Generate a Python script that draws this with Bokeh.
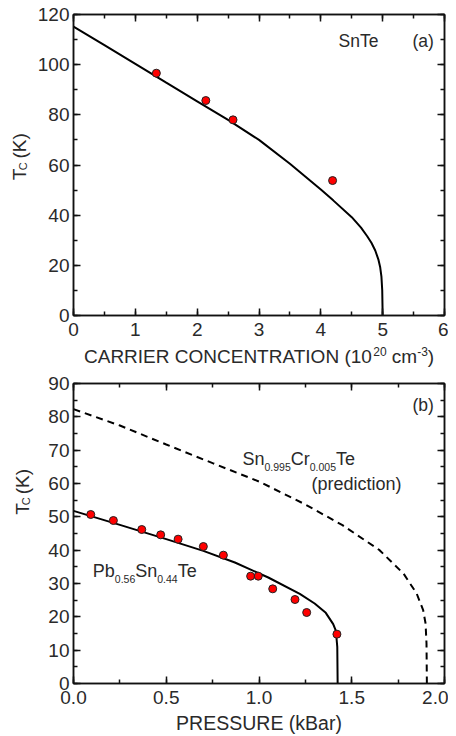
import math
from bokeh.plotting import figure
from bokeh.models import (Range1d, LinearAxis, SingleIntervalTicker,
                          CustomJSTickFormatter, NumeralTickFormatter, Label)
from bokeh.layouts import column, row
from bokeh.embed import file_html
from bokeh.resources import INLINE

# ---------------- data ----------------
# panel (a): SnTe, Tc vs carrier concentration (1e20 cm^-3)
snte_n = [1.34, 2.14, 2.58, 4.19]
snte_tc = [96.6, 85.7, 78.0, 53.8]
snte_fit_n = [0.0, 0.5, 1.0, 1.5, 2.0, 2.5, 3.0, 3.5, 4.0, 4.2, 4.5, 4.65,
              4.75, 4.82, 4.88, 4.93, 4.96, 4.98, 4.993, 5.0]
snte_fit_tc = [115.2, 107.8, 100.3, 92.8, 85.4, 78.0, 70.0, 60.5, 50.2, 45.9,
               39.2, 35.0, 31.6, 28.9, 25.9, 22.4, 19.2, 15.5, 10.0, 0.0]

# panel (b): Tc vs pressure (kBar)
pb_p = [0.093, 0.215, 0.368, 0.470, 0.564, 0.700, 0.808, 0.955, 0.996,
        1.074, 1.194, 1.257, 1.420]
pb_tc = [50.7, 48.9, 46.2, 44.6, 43.3, 41.1, 38.5, 32.2, 32.2, 28.4, 25.2,
         21.3, 14.8]
pb_fit_p = [0.0, 0.25, 0.5, 0.7, 0.87, 1.05, 1.22, 1.30, 1.36, 1.40, 1.413,
            1.418, 1.422, 1.424]
pb_fit_tc = [51.8, 47.6, 43.3, 39.8, 36.3, 31.8, 26.9, 24.0, 21.2, 17.8,
             16.0, 13.5, 11.0, 0.0]
cr_pred_p = [0.0, 0.25, 0.5, 0.75, 1.0, 1.25, 1.45, 1.65, 1.78, 1.85, 1.885,
             1.898, 1.903, 1.905]
cr_pred_tc = [82.3, 77.4, 71.7, 66.1, 60.6, 53.7, 47.5, 40.0, 32.9, 27.0,
              22.0, 18.0, 12.0, 0.0]

# ---------------- styling ----------------
FONT = "Liberation Sans"
INK = "#111111"
TXT = "#2a2a2a"
BASE_FIX = 0.28          # Label anchor sits this many em above the baseline

# Arial / Liberation Sans advance widths (per 1000 em)
AW = {' ': 278, '(': 333, ')': 333, '.': 278, '-': 333,
      'A': 667, 'B': 667, 'C': 722, 'E': 667, 'I': 278, 'K': 667, 'N': 722,
      'O': 778, 'P': 667, 'R': 722, 'S': 667, 'T': 611, 'U': 722,
      'a': 556, 'b': 556, 'c': 500, 'd': 556, 'e': 556, 'i': 222, 'k': 500,
      'm': 833, 'n': 556, 'o': 556, 'p': 556, 'r': 333, 't': 278}


def tw(s, size):
    return sum(AW.get(ch, 556) for ch in s) * size / 1000.0


def make_fig(xr, yr, xint, yint, w, h, bl, br, bt, bb):
    p = figure(x_range=Range1d(*xr), y_range=Range1d(*yr),
               width=w, height=h,
               min_border_left=bl, min_border_right=br,
               min_border_top=bt, min_border_bottom=bb,
               output_backend="svg", toolbar_location=None,
               background_fill_color="white", border_fill_color="white")
    p.outline_line_color = INK
    p.outline_line_width = 1.5
    p.xgrid.visible = False
    p.ygrid.visible = False
    xt = SingleIntervalTicker(interval=xint, num_minor_ticks=2)
    yt = SingleIntervalTicker(interval=yint, num_minor_ticks=2)
    main_x = p.below[0]
    main_y = p.left[0]
    main_x.ticker = xt
    main_y.ticker = yt
    axes = [main_x, main_y]
    for name, tk in (("above", xt), ("right", yt)):
        ax = LinearAxis(ticker=tk,
                        formatter=CustomJSTickFormatter(code="return ''"))
        ax.major_label_text_font_size = "0px"
        ax.major_label_standoff = 0
        p.add_layout(ax, name)
        axes.append(ax)
    for ax in axes:
        ax.axis_line_color = INK
        ax.axis_line_width = 1.5
        ax.major_tick_line_color = INK
        ax.major_tick_line_width = 1.5
        ax.minor_tick_line_color = INK
        ax.minor_tick_line_width = 1.5
        ax.major_tick_in = 7
        ax.major_tick_out = 0
        ax.minor_tick_in = 4
        ax.minor_tick_out = 0
    for ax in (main_x, main_y):
        ax.major_label_text_font = FONT
        ax.major_label_text_font_size = "19px"
        ax.major_label_text_color = TXT
    main_x.major_label_standoff = 7
    main_y.major_label_standoff = 4
    return p, main_x, main_y


def label_fig(w, h):
    """A blank strip whose frame is the whole canvas (1 data unit = 1 px)."""
    f = figure(width=w, height=h, x_range=Range1d(0, w), y_range=Range1d(0, h),
               x_axis_type=None, y_axis_type=None, min_border=0,
               output_backend="svg", toolbar_location=None,
               background_fill_color="white", border_fill_color="white")
    f.outline_line_color = None
    return f


class Geo:
    """Page-pixel geometry of a frame (page margin is 0)."""
    def __init__(self, left, top, w, h, xr, yr):
        self.left, self.top, self.w, self.h = left, top, w, h
        self.xr, self.yr = xr, yr

    def x(self, px):
        return self.xr[0] + (px - self.left) / self.w * (self.xr[1] - self.xr[0])

    def y(self, py):
        return self.yr[1] - (py - self.top) / self.h * (self.yr[1] - self.yr[0])


def _label(g, px, py, text, size, color, angle):
    return Label(x=g.x(px), y=g.y(py), text=text, angle=angle,
                 text_font=FONT, text_font_size=f"{size}px",
                 text_color=color, text_align="left",
                 text_baseline="alphabetic")


def rich(p, g, px, py, segs, color=TXT):
    """Horizontal text from pieces: (text, size, baseline shift px, +down)."""
    cx = px
    for text, size, dy in segs:
        lead = len(text) - len(text.lstrip(" "))
        cx += tw(" " * lead, size)
        body = text.strip(" ")
        p.add_layout(_label(g, cx, py + dy - BASE_FIX * size, body, size,
                            color, 0))
        cx += tw(text.lstrip(" "), size)


def rich_vertical(p, g, px, py, segs, color=TXT):
    """Text rotated 90deg CCW, starting at (px, py) on its baseline."""
    cy = py
    for text, size, dy in segs:
        lead = len(text) - len(text.lstrip(" "))
        cy -= tw(" " * lead, size)
        body = text.strip(" ")
        p.add_layout(_label(g, px + dy - BASE_FIX * size, cy, body, size,
                            color, math.pi / 2))
        cy -= tw(text.lstrip(" "), size)


TC_LABEL = [("T", 19, 0), ("C", 11, 1.5), (" (K)", 19, 0)]

W = 448
YL_W = 34                 # strip holding the rotated y labels
BL, BR = 73 - YL_W, 4     # frame left edge at page x = 73
PW = W - YL_W
FW = PW - BL - BR

# ---------------- panel (a) ----------------
XA, YA = (0, 6), (0, 120)
BT_A, BB_A = 14, 30
H_A = 345
FH_A = H_A - BT_A - BB_A
p1, xa1, ya1 = make_fig(XA, YA, 1, 20, PW, H_A, BL, BR, BT_A, BB_A)
ga = Geo(73, BT_A, FW, FH_A, XA, YA)

p1.line(snte_fit_n, snte_fit_tc, line_color="black", line_width=2)
p1.scatter(snte_n, snte_tc, size=8, fill_color="#ff0000",
           line_color="#222222", line_width=1)
rich(p1, ga, 338, 45, [("SnTe", 17.5, 0)])
rich(p1, ga, 412, 45, [("(a)", 17.5, 0)])

ylab_a = label_fig(YL_W, H_A)
rich_vertical(ylab_a, Geo(0, 0, YL_W, H_A, (0, YL_W), (0, H_A)),
              24, 190, TC_LABEL)

XL_H = 370 - H_A
xlab_a = label_fig(W, XL_H)
rich(xlab_a, Geo(0, H_A, W, XL_H, (0, W), (0, XL_H)), 83.5, 361,
     [("CARRIER CONCENTRATION (10", 19, 0), ("20", 12, -7),
      (" cm", 19, 0), ("-3", 12, -7), (")", 19, 0)])

# ---------------- panel (b) ----------------
XB, YB = (0, 2), (0, 90)
H_B = 366
TOP_B = 370
BT_B, BB_B = 13, 53
FH_B = H_B - BT_B - BB_B
p2, xa2, ya2 = make_fig(XB, YB, 0.5, 10, PW, H_B, BL, BR, BT_B, BB_B)
gb = Geo(73, TOP_B + BT_B, FW, FH_B, XB, YB)
xa2.formatter = NumeralTickFormatter(format="0.0")
xa2.axis_label = "PRESSURE (kBar)"
xa2.axis_label_text_font = FONT
xa2.axis_label_text_font_size = "19.5px"
xa2.axis_label_text_font_style = "normal"
xa2.axis_label_text_color = TXT
xa2.axis_label_standoff = 5

p2.line(cr_pred_p, cr_pred_tc, line_color="black", line_width=2,
        line_dash="7 5")
p2.line(pb_fit_p, pb_fit_tc, line_color="black", line_width=2)
p2.scatter(pb_p, pb_tc, size=8, fill_color="#ff0000",
           line_color="#222222", line_width=1)

rich(p2, gb, 412, 409, [("(b)", 17.5, 0)])
rich(p2, gb, 242, 464, [("Sn", 18, 0), ("0.995", 10.5, 5), ("Cr", 18, 0),
                        ("0.005", 10.5, 5), ("Te", 18, 0)])
rich(p2, gb, 311, 489, [("(prediction)", 18, 0)])
rich(p2, gb, 92.3, 576, [("Pb", 18, 0), ("0.56", 10.5, 5), ("Sn", 18, 0),
                         ("0.44", 10.5, 5), ("Te", 18, 0)])

ylab_b = label_fig(YL_W, H_B)
rich_vertical(ylab_b, Geo(0, TOP_B, YL_W, H_B, (0, YL_W), (0, H_B)),
              27, 530, TC_LABEL)

layout = column(row(ylab_a, p1, spacing=0), xlab_a,
                row(ylab_b, p2, spacing=0), spacing=0)
open("out.html", "w").write(file_html(layout, INLINE))
